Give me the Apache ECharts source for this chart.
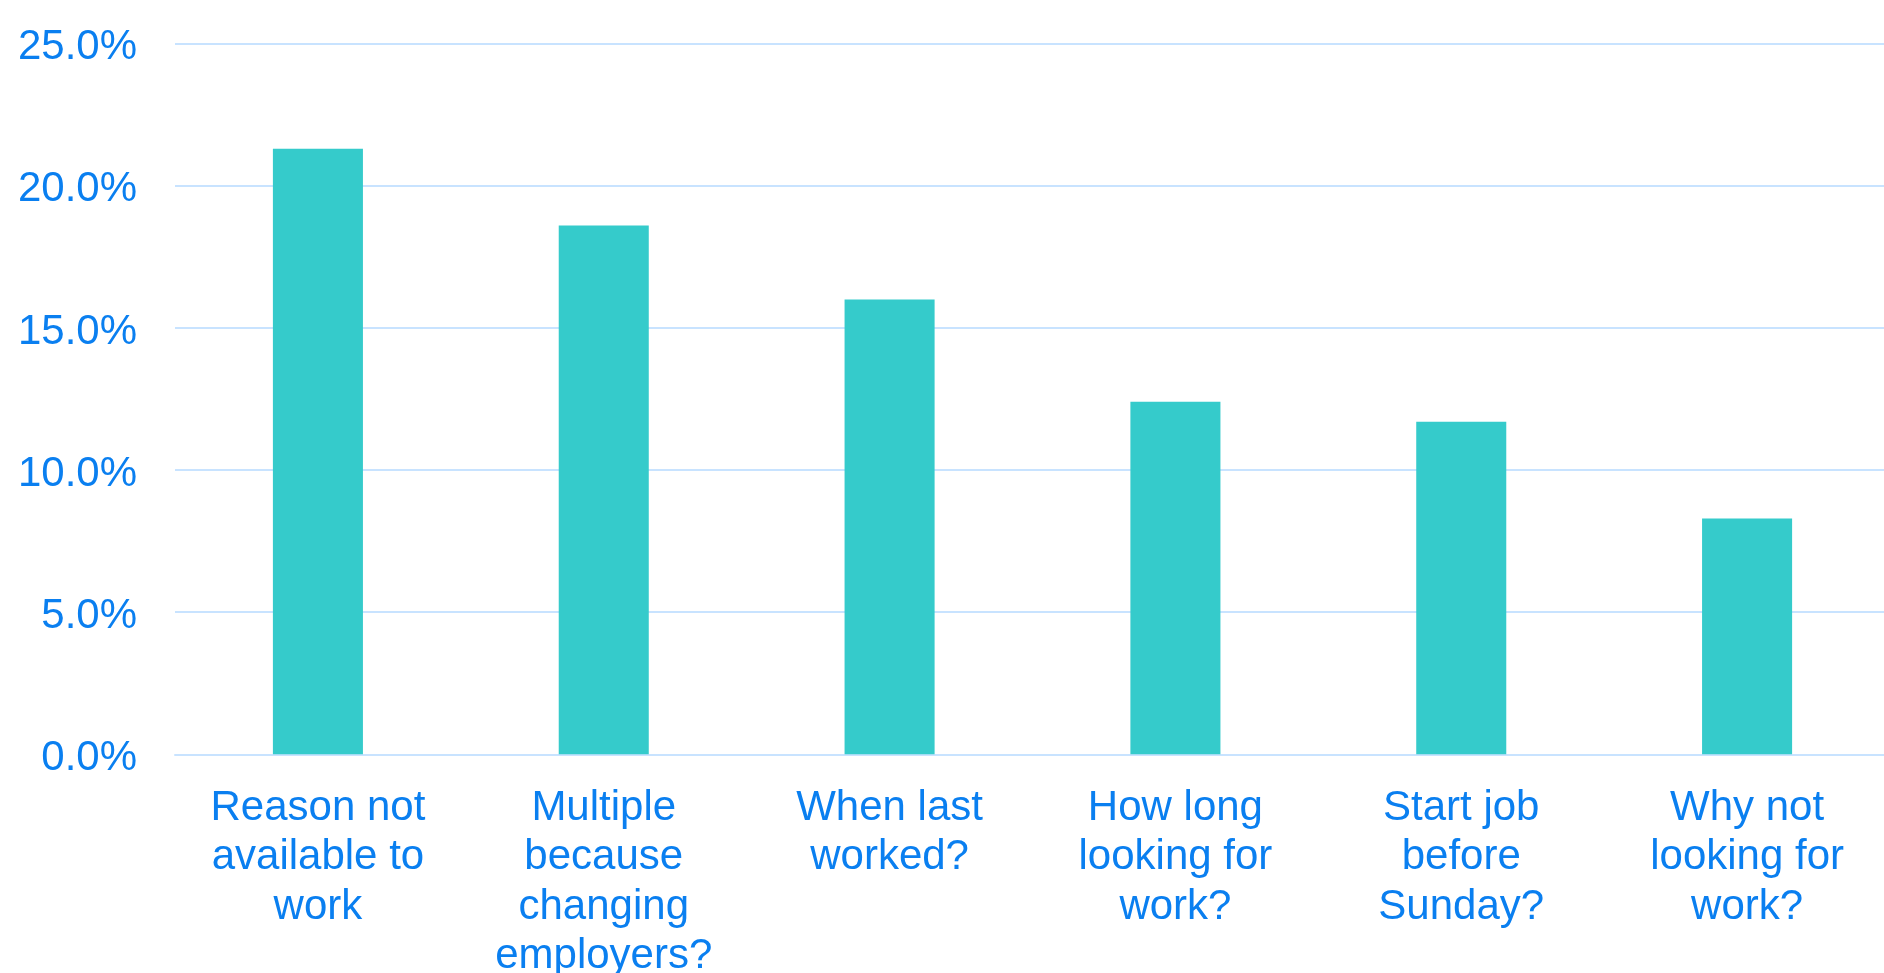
<!DOCTYPE html>
<html>
<head>
<meta charset="utf-8">
<script src="https://cdn.jsdelivr.net/npm/echarts@6/dist/echarts.min.js"></script>
<style>
  html, body { margin: 0; padding: 0; background: #fff; }
  #chart { width: 1884px; height: 973px; }
</style>
</head>
<body>
<div id="chart"></div>
<script>
const categories = [
  'Reason not\navailable to\nwork',
  'Multiple\nbecause\nchanging\nemployers?',
  'When last\nworked?',
  'How long\nlooking for\nwork?',
  'Start job\nbefore\nSunday?',
  'Why not\nlooking for\nwork?'
];
const shares = [21.3, 18.6, 16.0, 12.4, 11.7, 8.3];
const yTicks = [0, 5, 10, 15, 20, 25];

const textBlue = '#0A7FF0';
const gridBlue = '#C8E3FF';
const font = '"Liberation Sans", Arial, sans-serif';

const chart = echarts.init(document.getElementById('chart'));
chart.setOption({
  backgroundColor: '#ffffff',
  animation: false,
  grid: {
    left: 175, right: -6, top: 43.7, bottom: 218.7,
    containLabel: false, outerBoundsMode: 'none'
  },
  xAxis: {
    type: 'category',
    data: categories,
    axisTick: { show: false },
    axisLine: { show: true, lineStyle: { color: gridBlue, width: 2 } },
    axisLabel: {
      interval: 0,
      margin: 29,
      color: textBlue,
      fontFamily: font,
      fontSize: 42,
      lineHeight: 49.6,
      align: 'center'
    }
  },
  yAxis: {
    type: 'value',
    min: yTicks[0],
    max: yTicks[yTicks.length - 1],
    interval: 5,
    axisLine: { show: false },
    axisTick: { show: false },
    axisLabel: {
      margin: 38,
      color: textBlue,
      fontFamily: font,
      fontSize: 42,
      verticalAlign: 'top',
      lineHeight: 8,
      formatter: v => v.toFixed(1) + '%'
    },
    splitLine: { lineStyle: { color: gridBlue, width: 2 } }
  },
  series: [{
    type: 'bar',
    data: shares,
    barWidth: '31.5%',
    itemStyle: { color: '#35CBCB' }
  }]
});
</script>
</body>
</html>
